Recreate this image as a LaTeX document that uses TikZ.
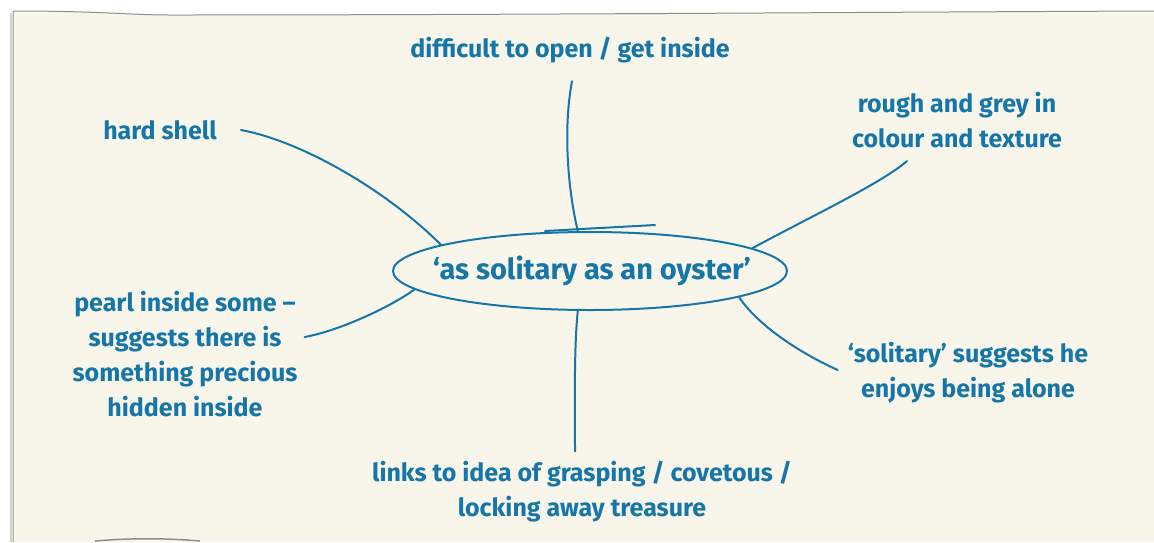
\documentclass[tikz,border=0pt]{standalone}
\usepackage{fontspec}
\setmainfont{Fira Sans}
\usetikzlibrary{shapes.geometric,calc}
\definecolor{paper}{HTML}{F8F6EA}
\definecolor{ink}{HTML}{1676A8}
\definecolor{edge}{HTML}{8E8E8E}
\begin{document}
\begin{tikzpicture}[x=1pt,y=-1pt,
  lbl/.style={text=ink,font=\fontsize{25}{35}\selectfont\bfseries,align=center,inner sep=0pt},
  link/.style={draw=ink,line width=2pt,line cap=round},
  hub/.style={draw=ink,line width=2pt,ellipse,minimum width=394pt,minimum height=78pt,inner sep=0pt,text=ink,font=\fontsize{29}{30}\selectfont\bfseries}]
\useasboundingbox (0,0) rectangle (1154,542);
\fill[white] (0,0) rectangle (1154,542);
% paper
\fill[paper] (13,542) -- (13,11) .. controls (100,11) and (130,15) .. (170,15)
  .. controls (500,15) and (900,12) .. (1154,11) -- (1154,542) -- cycle;
\draw[edge!40,line width=2pt] (11,542) -- (11,13);
\draw[edge,line width=1pt] (13,542) -- (13,11) .. controls (100,11) and (130,15) .. (170,15)
  .. controls (500,15) and (900,12) .. (1154,11);
\draw[edge,line width=1.5pt] (95,541) .. controls (130,538) and (165,538) .. (200,541);
% nodes
\node[hub] (oyster) at (590,271) {\makebox[0pt]{\hspace*{4pt}\raisebox{-4pt}{‘as solitary as an oyster’}}};
\node[lbl] (open) at (570,50) {difficult to open / get inside};
\node[lbl] (hard) at (160,130) {hard shell};
\node[lbl] (rough) at (957,120) {rough and grey in\\colour and texture};
\node[lbl] (pearl) at (185,354) {pearl inside some –\\suggests there is\\something precious\\hidden inside};
\node[lbl] (alone) at (968,373) {‘solitary’ suggests he\\enjoys being alone};
\node[lbl] (links) at (582,492) {links to idea of grasping / covetous /\\locking away treasure};
% overlap stroke of the hand-drawn ellipse
\draw[link] ($(oyster.center)+(-45,-40)$) -- ($(oyster.center)+(65,-46)$);
% connectors
\draw[link] ($(open.south)+(2,18)$) .. controls ($(open.south)+(-7,66)$) and ($(oyster.107)+(-10,-42)$) .. (oyster.107);
\draw[link] ($(hard.east)+(24,0)$) .. controls ($(hard.east)+(84,11)$) and ($(oyster.170)+(-55,-55)$) .. (oyster.170);
\draw[link] ($(rough.south)+(-50,13)$) .. controls ($(rough.south)+(-75,35)$) and ($(oyster.8)+(55,-30)$) .. (oyster.8);
\draw[link] ($(pearl.east)+(7,-17)$) .. controls ($(pearl.east)+(45,-24)$) and ($(oyster.186)+(-20,15)$) .. (oyster.186);
\draw[link] ($(alone.west)+(-10,-3)$) .. controls ($(alone.west)+(-50,-21)$) and ($(oyster.350)+(18,27)$) .. (oyster.350);
\draw[link] (oyster.253) .. controls ($(oyster.253)+(-4,38)$) and ($(links.north)+(-7,-52)$) .. ($(links.north)+(-7,-10)$);
\end{tikzpicture}
\end{document}
